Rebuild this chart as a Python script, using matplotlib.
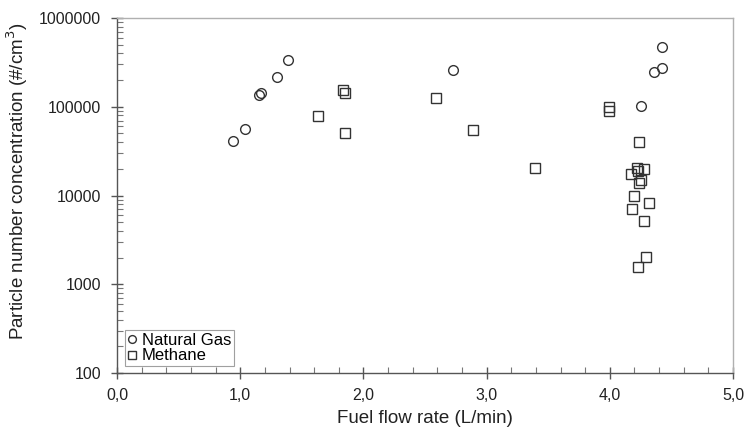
import numpy as np
import matplotlib.pyplot as plt
from matplotlib.ticker import FixedLocator, FuncFormatter, LogLocator, NullFormatter

plt.rcParams['font.family'] = ['Liberation Sans', 'DejaVu Sans']

# Natural gas
ng_x = [0.94, 1.04, 1.15, 1.17, 1.30, 1.39, 2.73, 4.25, 4.36, 4.42, 4.42]
ng_y = [41500, 56500, 136000, 144000, 217000, 337000, 261000, 103000, 247000, 274000, 472000]

# Methane
me_x = [1.63, 1.83, 1.85, 1.85, 2.59, 2.89, 3.39, 3.99, 3.99, 4.24,
        4.22, 4.28, 4.17, 4.23, 4.25, 4.24, 4.20, 4.18, 4.32, 4.28, 4.29, 4.23]
me_y = [79000, 155000, 144000, 51000, 126000, 55000, 20500, 100000, 90000, 40500,
        20500, 20000, 17500, 19000, 15000, 14000, 10000, 7100, 8200, 5100, 2050, 1550]

xticks = [0, 1, 2, 3, 4, 5]
yticks = [100, 1000, 10000, 100000, 1000000]

def main():
    fig = plt.figure(figsize=(7.46, 4.36), dpi=100)
    ax = fig.add_axes([0.157, 0.1445, 0.8256, 0.8142])

    ax.plot(ng_x, ng_y, 'o', ms=7, mfc='none', mec='#333333', mew=1.0, label='Natural Gas')
    ax.plot(me_x, me_y, 's', ms=7, mfc='none', mec='#333333', mew=1.0, label='Methane')

    ax.set_yscale('log')
    ax.set_xlim(0, 5)
    ax.set_ylim(100, 1000000)

    ax.xaxis.set_major_locator(FixedLocator(xticks))
    ax.xaxis.set_minor_locator(FixedLocator(np.arange(0, 5.01, 0.2)))
    ax.xaxis.set_major_formatter(FuncFormatter(lambda v, p: f'{v:.1f}'.replace('.', ',')))
    ax.yaxis.set_major_locator(FixedLocator(yticks))
    ax.yaxis.set_minor_locator(LogLocator(base=10, subs=np.arange(2, 10)))
    ax.yaxis.set_major_formatter(FuncFormatter(lambda v, p: f'{int(round(v))}'))
    ax.yaxis.set_minor_formatter(NullFormatter())

    ax.tick_params(which='major', direction='inout', length=9, width=1, color='#555555',
                   labelsize=11.5, labelcolor='#222222')
    ax.tick_params(axis='y', which='major', pad=7)
    ax.tick_params(axis='x', which='major', pad=6)
    ax.tick_params(which='minor', direction='in', length=4, width=0.8, color='#777777')

    for s in ['left', 'bottom']:
        ax.spines[s].set_color('#555555')
        ax.spines[s].set_linewidth(1.0)
    for s in ['top', 'right']:
        ax.spines[s].set_color('#b0b0b0')
        ax.spines[s].set_linewidth(1.0)

    ax.set_xlabel('Fuel flow rate (L/min)', fontsize=13.5, color='#222222', labelpad=5)
    ax.set_ylabel('Particle number concentration (#/cm$^3$)', fontsize=13.5, color='#222222')
    ax.yaxis.set_label_coords(-0.141, 0.54)

    leg = ax.legend(loc='lower left', bbox_to_anchor=(0.012, 0.02), fontsize=12, frameon=True,
                    fancybox=False, edgecolor='#888888', handlelength=0.6, handletextpad=0.3,
                    borderpad=0.15, labelspacing=0.05, markerscale=0.8, borderaxespad=0)
    leg.get_frame().set_linewidth(0.8)

    fig.savefig('out.png', dpi=100)

if __name__ == '__main__':
    main()
